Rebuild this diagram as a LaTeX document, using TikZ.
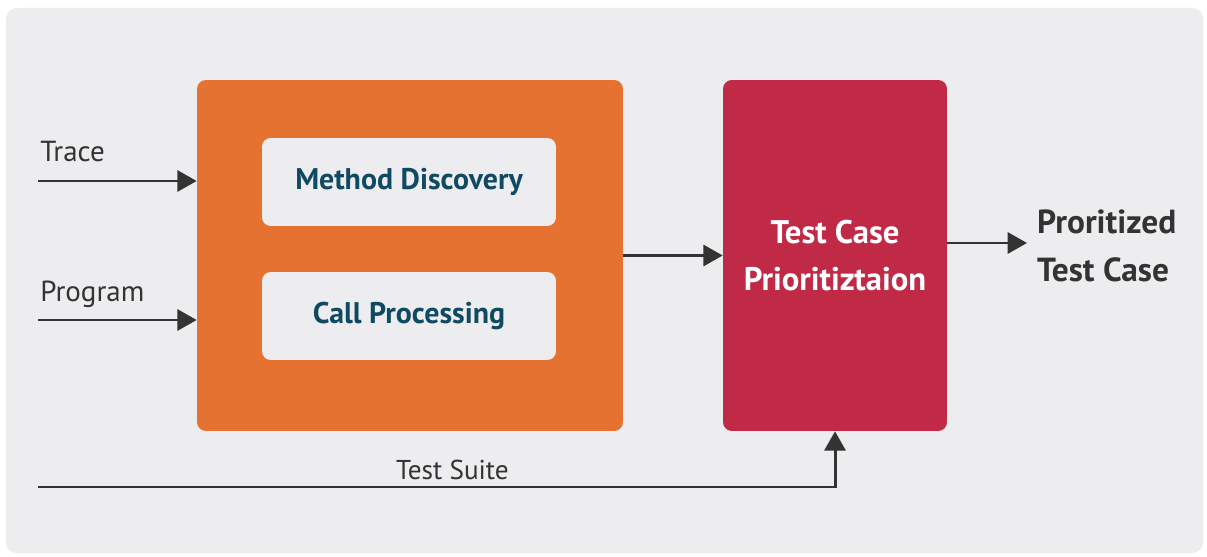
\documentclass[tikz,border=0pt]{standalone}
\usepackage{fontspec}
\setmainfont{PT Sans}
\usetikzlibrary{arrows.meta}

\definecolor{panelgray}{HTML}{EDEDEF}
\definecolor{blockorange}{HTML}{E57231}
\definecolor{blockred}{HTML}{C02A47}
\definecolor{labelnavy}{HTML}{0F4A62}
\definecolor{wiregray}{HTML}{333333}

\tikzset{
  flow/.style={draw=wiregray, line width=1.7pt, -{Triangle[length=11pt, width=12pt]}},
  block/.style={rounded corners=5pt, inner sep=0pt, align=center},
  inlabel/.style={text=wiregray, font=\fontsize{16.5}{20}\selectfont}
}

\begin{document}
\begin{tikzpicture}[x=0.02cm, y=-0.02cm]

   \useasboundingbox (0,0) rectangle (1207,557);
   \fill[white] (0,0) rectangle (1207,557);
   \fill[panelgray, rounded corners=6pt] (6,8) rectangle (1203,553);

   \node [block, fill=blockorange, minimum width=8.52cm, minimum height=7.02cm]
      (vOrange) at (410,255.5) {};
   \node [block, fill=blockred, minimum width=4.48cm, minimum height=7.02cm,
          text=white, font=\bfseries\fontsize{18.6}{27}\selectfont]
      (vRed) at (835,255.5) {Test Case\\Prioritiztaion};

   \foreach \y/\t/\n in {182/Method Discovery/Method, 316/Call Processing/Call}
     \node [block, fill=panelgray, minimum width=5.88cm, minimum height=1.76cm,
            text=labelnavy, font=\bfseries\fontsize{17}{20}\selectfont]
        (v\n) at (409,\y) {\t};

   \foreach \y/\t in {181/Trace, 320/Program} {
     \coordinate (s\t) at (38,\y);
     \node [inlabel, anchor=base west, inner sep=0pt] (l\t) at (40,\y-19) {\t};
     \draw [flow] (s\t) -- (vOrange.west |- s\t);
   }

   \node [anchor=west, align=left, text=wiregray, font=\bfseries\fontsize{19}{27}\selectfont]
      (vOut) at (1031,246) {Proritized\\Test Case};
   \draw [flow] (vRed.east |- 0,243) -- (1027,243);
   \draw [flow] (vOrange.east) -- (vRed.west);

   \coordinate (sSuite) at (38,487);
   \draw [flow] (sSuite) -| node [inlabel, font=\fontsize{15.5}{18}\selectfont, pos=0.26, above] {Test Suite} (vRed.south);
\end{tikzpicture}
\end{document}
